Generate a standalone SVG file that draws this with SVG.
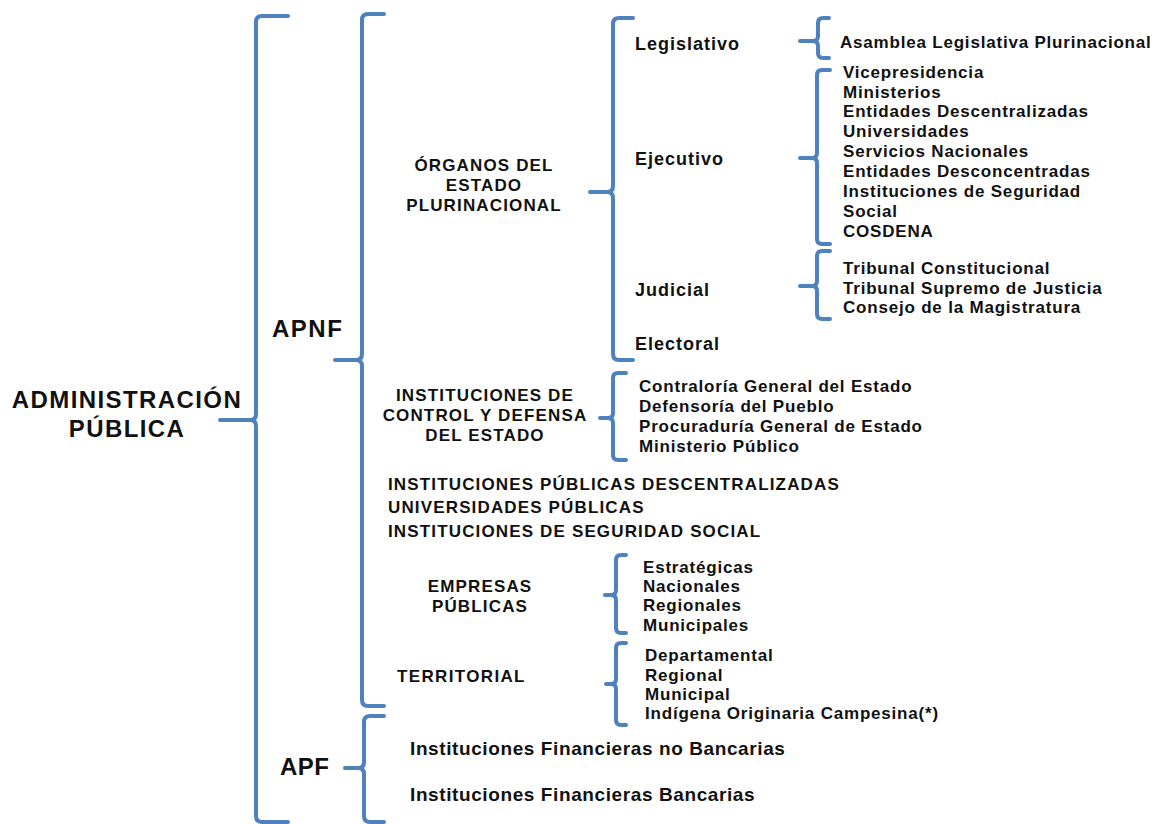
<svg xmlns="http://www.w3.org/2000/svg" width="1156" height="824" viewBox="0 0 1156 824">
<style>
.br{fill:none;stroke:#4F81BD;stroke-width:4;stroke-linecap:round;stroke-linejoin:round}
text{font-family:"Liberation Sans",Arial,sans-serif;font-weight:bold;fill:#111}
.t{font-size:17px;letter-spacing:0.8px}
.k{font-size:17px;letter-spacing:1.15px}
.o{font-size:18px;letter-spacing:1px}
.f{font-size:19px;letter-spacing:0.6px}
.c{text-anchor:middle}
.big{font-size:24px;letter-spacing:1.4px}
</style>
<rect width="1156" height="824" fill="#fff"/>
<g id="connectors">
<path class="br" d="M288,16 L262,16 Q256,16 256,22 L256,414 Q256,420 250,420 L220,420 M250,420 Q256,420 256,426 L256,816 Q256,822 262,822 L288,822"/>
<path class="br" d="M384,14 L368,14 Q362,14 362,20 L362,354 Q362,360 356,360 L335,360 M356,360 Q362,360 362,366 L362,700 Q362,706 368,706 L384,706"/>
<path class="br" d="M384,716 L370,716 Q364,716 364,722 L364,762 Q364,768 358,768 L345,768 M358,768 Q364,768 364,774 L364,816 Q364,822 370,822 L384,822"/>
<path class="br" d="M633,18 L619,18 Q613,18 613,24 L613,186 Q613,192 607,192 L590,192 M607,192 Q613,192 613,198 L613,354 Q613,360 619,360 L633,360"/>
<path class="br" d="M829,18 L823,18 Q818,18 818,23 L818,36 Q818,41 813,41 L800,41 M813,41 Q818,41 818,46 L818,53 Q818,58 823,58 L829,58"/>
<path class="br" d="M830,70 L822,70 Q817,70 817,75 L817,153 Q817,158 812,158 L800,158 M812,158 Q817,158 817,163 L817,239 Q817,244 822,244 L830,244"/>
<path class="br" d="M830,251 L822,251 Q817,251 817,256 L817,281 Q817,286 812,286 L800,286 M812,286 Q817,286 817,291 L817,314 Q817,319 822,319 L830,319"/>
<path class="br" d="M626,373 L618,373 Q613,373 613,378 L613,413 Q613,418 608,418 L600,418 M608,418 Q613,418 613,423 L613,455 Q613,460 618,460 L626,460"/>
<path class="br" d="M626,555 L621,555 Q616,555 616,560 L616,590 Q616,595 611,595 L605,595 M611,595 Q616,595 616,600 L616,628 Q616,633 621,633 L626,633"/>
<path class="br" d="M626,643 L621,643 Q616,643 616,648 L616,679 Q616,684 611,684 L606,684 M611,684 Q616,684 616,689 L616,720 Q616,725 621,725 L626,725"/>
</g>
<g id="admin"><text class="big c" x="127" y="408">ADMINISTRACIÓN</text><text class="big c" x="127" y="437">PÚBLICA</text></g>
<g id="apnf"><text class="big" x="272" y="337" style="letter-spacing:1.5px">APNF</text></g>
<g id="apf"><text class="big" x="280" y="775" style="letter-spacing:0.5px">APF</text></g>
<g id="organos"><text class="k c" x="484" y="171">ÓRGANOS DEL</text><text class="k c" x="484" y="191">ESTADO</text><text class="k c" x="484" y="211">PLURINACIONAL</text></g>
<g id="legislativo"><text class="o" x="635" y="50">Legislativo</text></g>
<g id="ejecutivo"><text class="o" x="635" y="165">Ejecutivo</text></g>
<g id="judicial"><text class="o" x="635" y="296">Judicial</text></g>
<g id="electoral"><text class="o" x="635" y="350">Electoral</text></g>
<g id="legis-list"><text class="t" x="840" y="48">Asamblea Legislativa Plurinacional</text></g>
<g id="ejec-list">
<text class="t" x="843" y="78">Vicepresidencia</text>
<text class="t" x="843" y="98">Ministerios</text>
<text class="t" x="843" y="117">Entidades Descentralizadas</text>
<text class="t" x="843" y="137">Universidades</text>
<text class="t" x="843" y="157">Servicios Nacionales</text>
<text class="t" x="843" y="177">Entidades Desconcentradas</text>
<text class="t" x="843" y="197">Instituciones de Seguridad</text>
<text class="t" x="843" y="217">Social</text>
<text class="t" x="843" y="237">COSDENA</text>
</g>
<g id="judi-list">
<text class="t" x="843" y="274">Tribunal Constitucional</text>
<text class="t" x="843" y="294">Tribunal Supremo de Justicia</text>
<text class="t" x="843" y="313">Consejo de la Magistratura</text>
</g>
<g id="control"><text class="k c" x="485" y="401">INSTITUCIONES DE</text><text class="k c" x="485" y="421">CONTROL Y DEFENSA</text><text class="k c" x="485" y="441">DEL ESTADO</text></g>
<g id="control-list">
<text class="t" x="639" y="392">Contraloría General del Estado</text>
<text class="t" x="639" y="412">Defensoría del Pueblo</text>
<text class="t" x="639" y="432">Procuraduría General de Estado</text>
<text class="t" x="639" y="452">Ministerio Público</text>
</g>
<g id="descentralizadas">
<text class="k" x="388" y="490">INSTITUCIONES PÚBLICAS DESCENTRALIZADAS</text>
<text class="k" x="388" y="513">UNIVERSIDADES PÚBLICAS</text>
<text class="k" x="388" y="537">INSTITUCIONES DE SEGURIDAD SOCIAL</text>
</g>
<g id="empresas"><text class="k c" x="480" y="592">EMPRESAS</text><text class="k c" x="480" y="612">PÚBLICAS</text></g>
<g id="empresas-list">
<text class="t" x="643" y="573">Estratégicas</text>
<text class="t" x="643" y="592">Nacionales</text>
<text class="t" x="643" y="611">Regionales</text>
<text class="t" x="643" y="631">Municipales</text>
</g>
<g id="territorial"><text class="k" x="397" y="682" style="letter-spacing:1.35px">TERRITORIAL</text></g>
<g id="territorial-list">
<text class="t" x="645" y="661">Departamental</text>
<text class="t" x="645" y="681">Regional</text>
<text class="t" x="645" y="700">Municipal</text>
<text class="t" x="645" y="719">Indígena Originaria Campesina(*)</text>
</g>
<g id="apf-list">
<text class="f" x="410" y="755">Instituciones Financieras no Bancarias</text>
<text class="f" x="410" y="801">Instituciones Financieras Bancarias</text>
</g>
</svg>
